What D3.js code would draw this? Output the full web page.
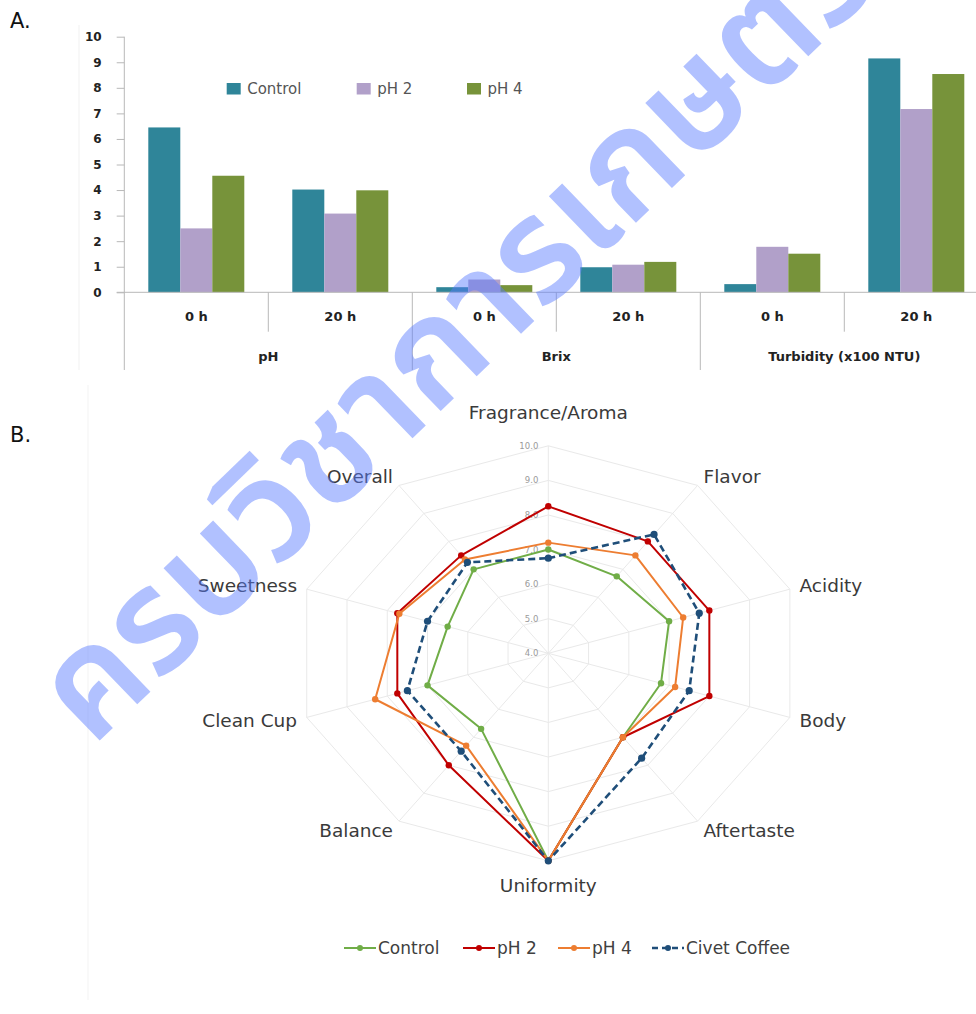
<!DOCTYPE html>
<html>
<head>
<meta charset="utf-8">
<script src="https://cdn.jsdelivr.net/npm/d3@7"></script>
<style>
  html, body { margin: 0; padding: 0; background: #fff; }
  svg { display: block; }
</style>
</head>
<body>
<svg id="fig" width="976" height="1014"></svg>
<script>
// ---- Panel A: fermentation measurements ----
const measures = ["pH", "Brix", "Turbidity (x100 NTU)"];
const times = ["0 h", "20 h"];
const barSeries = ["Control", "pH 2", "pH 4"];
const controlVals = [6.45, 4.02, 0.20, 0.98, 0.32, 9.15];
const ph2Vals = [2.50, 3.08, 0.50, 1.08, 1.78, 7.17];
const ph4Vals = [4.56, 3.99, 0.28, 1.19, 1.51, 8.54];
const barTicks = [0, 1, 2, 3, 4, 5, 6, 7, 8, 9, 10];
const barColors = ["#2f8599", "#b1a0c9", "#77933a"];

// ---- Panel B: cupping scores ----
const attributes = ["Fragrance/Aroma", "Flavor", "Acidity", "Body", "Aftertaste",
  "Uniformity", "Balance", "Clean Cup", "Sweetness", "Overall"];
const radarTicks = [4, 5, 6, 7, 8, 9, 10];
const radarSeries = ["Control", "pH 2", "pH 4", "Civet Coffee"];
const controlScores = [7.0, 6.75, 7.0, 6.8, 7.0, 10, 6.7, 7.0, 6.5, 7.0];
const ph2Scores = [8.25, 8.0, 8.0, 8.0, 7.0, 10, 8.0, 7.75, 7.75, 7.5];
const ph4Scores = [7.2, 7.5, 7.35, 7.15, 7.0, 10, 7.3, 8.3, 7.7, 7.35];
const civetScores = [6.75, 8.25, 7.75, 7.5, 7.75, 10, 7.5, 7.5, 7.0, 7.25];
const radarColors = ["#70ad47", "#c00000", "#ed7d31", "#1f4e79"];

const svg = d3.select("#fig");
svg.append("rect").attr("width", 976).attr("height", 1014).attr("fill", "#fff");

// panel letters
svg.append("text").attr("x", 10).attr("y", 28).text("A.")
  .attr("font-family", "DejaVu Sans, sans-serif").attr("font-size", 21).attr("fill", "#111");
svg.append("text").attr("x", 10).attr("y", 442).text("B.")
  .attr("font-family", "DejaVu Sans, sans-serif").attr("font-size", 21).attr("fill", "#111");

// faint chart-area edges
svg.append("line").attr("x1", 79).attr("x2", 79).attr("y1", 25).attr("y2", 370)
  .attr("stroke", "#f1f1f1");
svg.append("line").attr("x1", 88).attr("x2", 88).attr("y1", 385).attr("y2", 1000)
  .attr("stroke", "#f3f3f3");

// ================= bar chart =================
const A = svg.append("g");
const groups = measures.flatMap(m => times.map(t => ({ measure: m, time: t, key: m + "|" + t })));
const barData = groups.map((g, i) => ({ ...g, values: [controlVals[i], ph2Vals[i], ph4Vals[i]] }));

const x0 = d3.scaleBand().domain(groups.map(g => g.key)).range([124.3, 988.3]);
const x1 = d3.scaleBand().domain(barSeries).range([0, x0.bandwidth()]).paddingInner(0).paddingOuter(0.75);
const yA = d3.scaleLinear().domain([0, 10]).range([292.3, 36.7]);
const colorA = d3.scaleOrdinal().domain(barSeries).range(barColors);

// y axis
const yAxis = A.append("g").attr("transform", "translate(124.3,0)")
  .call(d3.axisLeft(yA).tickValues(barTicks).tickSize(7.6).tickPadding(15).tickFormat(d3.format("d")));
yAxis.select(".domain").remove();
yAxis.selectAll(".tick line").attr("stroke", "#b8b8b8");
yAxis.selectAll(".tick text").attr("font-family", "DejaVu Sans, sans-serif")
  .attr("font-weight", "bold").attr("font-size", 12).attr("fill", "#222");

// bars
A.append("g").selectAll("g").data(barData).join("g")
  .attr("transform", d => `translate(${x0(d.key)},0)`)
  .selectAll("rect").data(d => d.values.map((v, j) => ({ s: barSeries[j], v })))
  .join("rect")
  .attr("x", d => x1(d.s)).attr("width", x1.bandwidth())
  .attr("y", d => yA(d.v)).attr("height", d => yA(0) - yA(d.v))
  .attr("fill", d => colorA(d.s));

// axis lines
const axisStroke = "#b8b8b8";
A.append("line").attr("x1", 124.3).attr("x2", 124.3).attr("y1", yA(10)).attr("y2", 370).attr("stroke", axisStroke);
A.append("line").attr("x1", 116.7).attr("x2", 976).attr("y1", yA(0)).attr("y2", yA(0)).attr("stroke", axisStroke);

// multi-level category axis
groups.forEach((g, i) => {
  if (i === 0) return;
  const xb = x0(g.key);
  const major = g.time === times[0];
  A.append("line").attr("x1", xb).attr("x2", xb).attr("y1", yA(0))
    .attr("y2", major ? 370 : 331.7).attr("stroke", axisStroke);
});
A.append("g").selectAll("text").data(groups).join("text")
  .attr("x", d => x0(d.key) + x0.bandwidth() / 2).attr("y", 316)
  .attr("text-anchor", "middle").attr("dominant-baseline", "central")
  .attr("font-family", "DejaVu Sans, sans-serif").attr("font-weight", "bold")
  .attr("font-size", 13).attr("fill", "#222").text(d => d.time);
A.append("g").selectAll("text").data(measures).join("text")
  .attr("x", m => x0(m + "|" + times[0]) + x0.bandwidth())
  .attr("y", 356)
  .attr("text-anchor", "middle").attr("dominant-baseline", "central")
  .attr("font-family", "DejaVu Sans, sans-serif").attr("font-weight", "bold")
  .attr("font-size", 13).attr("fill", "#222").text(m => m);

// legend
const legA = A.append("g");
const legAX = [226.7, 356.7, 467];
barSeries.forEach((s, i) => {
  legA.append("rect").attr("x", legAX[i]).attr("y", 83).attr("width", 14).attr("height", 11.5)
    .attr("fill", colorA(s));
  legA.append("text").attr("x", legAX[i] + 20.5).attr("y", 88.5).attr("dominant-baseline", "central")
    .attr("font-family", "DejaVu Sans, sans-serif").attr("font-size", 15).attr("fill", "#555").text(s);
});

// ================= radar chart =================
const B = svg.append("g");
const cx = 548.3, cy = 653.3;
const rX = d3.scaleLinear().domain([4, 10]).range([0, 254]);
const rY = d3.scaleLinear().domain([4, 10]).range([0, 207.5]);
const ang = i => i * 2 * Math.PI / attributes.length;
const pt = (v, i) => [cx + rX(v) * Math.sin(ang(i)), cy - rY(v) * Math.cos(ang(i))];

const gridColor = "#e9e9e9";
radarTicks.slice(1).forEach(t => {
  B.append("path").attr("d", d3.line().curve(d3.curveLinearClosed)(attributes.map((a, i) => pt(t, i))))
    .attr("fill", "none").attr("stroke", gridColor).attr("stroke-width", 1);
});
attributes.forEach((a, i) => {
  const [x, y] = pt(10, i);
  B.append("line").attr("x1", cx).attr("y1", cy).attr("x2", x).attr("y2", y)
    .attr("stroke", gridColor).attr("stroke-width", 1);
});

// value labels along the top spoke
B.append("g").selectAll("text").data(radarTicks).join("text")
  .attr("x", cx - 10).attr("y", t => cy - rY(t)).attr("text-anchor", "end")
  .attr("dominant-baseline", "central").attr("font-family", "DejaVu Sans, sans-serif")
  .attr("font-size", 8.5).attr("fill", "#9a9a9a").text(t => t.toFixed(1));

// attribute labels
attributes.forEach((a, i) => {
  const s = Math.sin(ang(i)), c = Math.cos(ang(i));
  let x, y, anchor;
  if (Math.abs(s) < 0.01) {
    x = cx; anchor = "middle";
    y = c > 0 ? cy - rY(10) - 33 : cy + rY(10) + 25;
  } else {
    x = cx + rX(10) * 1.04 * s;
    y = cy - rY(10) * c - c * 11;
    anchor = s > 0 ? "start" : "end";
  }
  B.append("text").attr("x", x).attr("y", y).attr("text-anchor", anchor)
    .attr("dominant-baseline", "central").attr("font-family", "DejaVu Sans, sans-serif")
    .attr("font-size", 18.5).attr("fill", "#3a3a3a").text(a);
});

// series
const scoreSets = [controlScores, ph2Scores, ph4Scores, civetScores];
const radarLine = d3.line().curve(d3.curveLinearClosed);
scoreSets.forEach((sc, k) => {
  const pts = sc.map((v, i) => pt(v, i));
  const dashed = radarSeries[k] === "Civet Coffee";
  B.append("path").attr("d", radarLine(pts)).attr("fill", "none")
    .attr("stroke", radarColors[k]).attr("stroke-width", dashed ? 2.6 : 2)
    .attr("stroke-dasharray", dashed ? "7,4" : null).attr("stroke-linejoin", "round");
  B.append("g").selectAll("circle").data(pts).join("circle")
    .attr("cx", p => p[0]).attr("cy", p => p[1]).attr("r", dashed ? 3.6 : 3.2)
    .attr("fill", radarColors[k]);
});

// legend
const legB = B.append("g");
const legBX = [344, 463, 558, 652];
radarSeries.forEach((s, k) => {
  const dashed = s === "Civet Coffee";
  legB.append("line").attr("x1", legBX[k]).attr("x2", legBX[k] + 32).attr("y1", 948).attr("y2", 948)
    .attr("stroke", radarColors[k]).attr("stroke-width", dashed ? 2.4 : 2)
    .attr("stroke-dasharray", dashed ? "6,4" : null);
  legB.append("circle").attr("cx", legBX[k] + 16).attr("cy", 948).attr("r", 3).attr("fill", radarColors[k]);
  legB.append("text").attr("x", legBX[k] + 34).attr("y", 948).attr("dominant-baseline", "central")
    .attr("font-family", "DejaVu Sans, sans-serif").attr("font-size", 17).attr("fill", "#404040").text(s);
});

// site watermark
svg.append("text")
  .attr("transform", "translate(92,748) rotate(-44)")
  .attr("font-family", "'Noto Sans Thai', 'Noto Sans Thai Looped', Loma, Garuda, 'Tlwg Typo', sans-serif")
  .attr("font-size", 145).attr("font-weight", 600)
  .attr("fill", "#5a7cff").attr("fill-opacity", 0.47)
  .text("ครบวิชาการเกษตร");
</script>
</body>
</html>
